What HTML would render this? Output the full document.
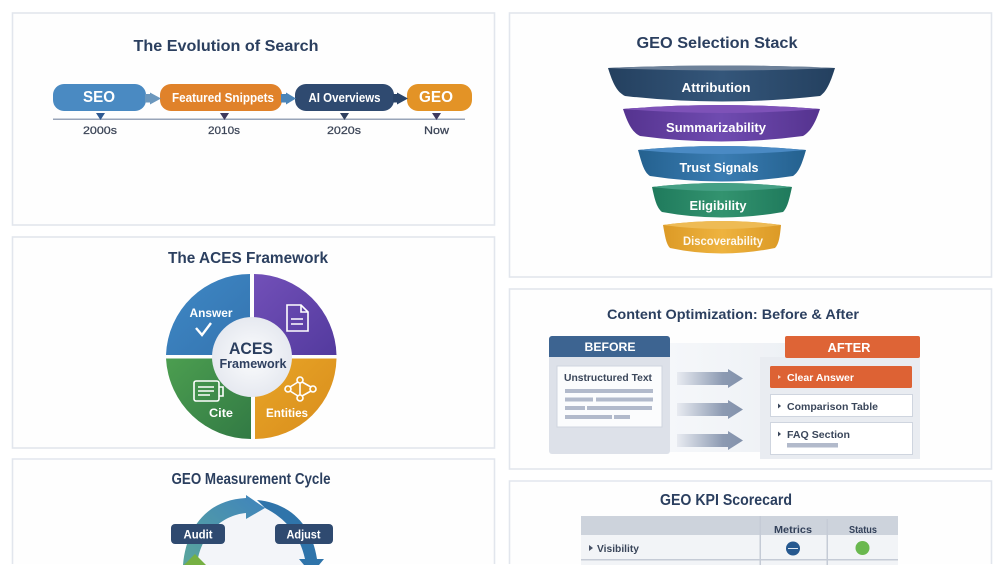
<!DOCTYPE html>
<html><head><meta charset="utf-8"><style>
html,body{margin:0;padding:0;background:#fff;width:1005px;height:565px;overflow:hidden}
svg{display:block;filter:blur(.35px)}
text{font-family:"Liberation Sans",sans-serif;font-weight:700;text-anchor:middle}
.t{fill:#2b3f5f;font-size:16px}
.w{fill:#fff}
.d{fill:#3d4658;font-size:11px;font-weight:400;stroke:#3d4658;stroke-width:.25}
.l{fill:#3a465a;font-size:10.5px;text-anchor:start}
</style></head><body>
<svg width="1005" height="565" viewBox="0 0 1005 565" xmlns="http://www.w3.org/2000/svg">
<defs>
<linearGradient id="f1" x1="0" x2="1" y1="0" y2="0"><stop offset="0" stop-color="#24405f"/><stop offset=".5" stop-color="#34567a"/><stop offset="1" stop-color="#24405f"/></linearGradient>
<linearGradient id="f2" x1="0" x2="1" y1="0" y2="0"><stop offset="0" stop-color="#55338f"/><stop offset=".5" stop-color="#6f4bb0"/><stop offset="1" stop-color="#55338f"/></linearGradient>
<linearGradient id="f3" x1="0" x2="1" y1="0" y2="0"><stop offset="0" stop-color="#24618f"/><stop offset=".5" stop-color="#3a7cb2"/><stop offset="1" stop-color="#24618f"/></linearGradient>
<linearGradient id="f4" x1="0" x2="1" y1="0" y2="0"><stop offset="0" stop-color="#1f7a5c"/><stop offset=".5" stop-color="#33936f"/><stop offset="1" stop-color="#1f7a5c"/></linearGradient>
<linearGradient id="f5" x1="0" x2="1" y1="0" y2="0"><stop offset="0" stop-color="#dc9a26"/><stop offset=".5" stop-color="#eeb33f"/><stop offset="1" stop-color="#dc9a26"/></linearGradient>
<linearGradient id="ar" x1="0" x2="1" y1="0" y2="0"><stop offset="0" stop-color="#e8ebf1"/><stop offset=".7" stop-color="#8c9ab2"/><stop offset="1" stop-color="#8392ab"/></linearGradient>
<linearGradient id="band" x1="0" x2="1" y1="0" y2="0"><stop offset="0" stop-color="#f5f7fa"/><stop offset="1" stop-color="#eef1f5"/></linearGradient>
<linearGradient id="c1" x1="0" x2="1" y1="1" y2="0"><stop offset="0" stop-color="#5aa69c"/><stop offset="1" stop-color="#3f83bd"/></linearGradient>
<linearGradient id="q1" x1="0" x2="1" y1="0" y2="1"><stop offset="0" stop-color="#3f88c5"/><stop offset="1" stop-color="#3474b0"/></linearGradient>
<linearGradient id="q2" x1="0" x2="1" y1="0" y2="1"><stop offset="0" stop-color="#7250b8"/><stop offset="1" stop-color="#533a9e"/></linearGradient>
<linearGradient id="q3" x1="0" x2="1" y1="0" y2="1"><stop offset="0" stop-color="#4c9e50"/><stop offset="1" stop-color="#327a44"/></linearGradient>
<linearGradient id="q4" x1="0" x2="1" y1="0" y2="1"><stop offset="0" stop-color="#e8a527"/><stop offset="1" stop-color="#d88c1c"/></linearGradient>
<radialGradient id="ctr"><stop offset="0" stop-color="#fbfcfd"/><stop offset="1" stop-color="#e6e9f0"/></radialGradient>
</defs>
<rect width="1005" height="565" fill="#fff"/>
<g fill="#fefefe" stroke="#e2e6ed" stroke-width="1.6">
<rect x="12.5" y="13" width="482" height="212"/>
<rect x="12.5" y="237" width="482" height="211"/>
<path d="M12.500 564V459H494.500V564"/>
<rect x="509.5" y="13" width="482" height="264"/>
<rect x="509.5" y="289" width="482" height="180"/>
<path d="M509.500 564V481H991.500V564"/>
</g>

<!-- Evolution -->
<text class="t" x="226" y="51" textLength="185" lengthAdjust="spacingAndGlyphs">The Evolution of Search</text>
<rect x="53" y="84" width="93" height="27" rx="11" fill="#4a8ac2"/>
<rect x="160" y="84" width="122" height="27" rx="11" fill="#e0822a"/>
<rect x="295" y="84" width="99" height="27" rx="11" fill="#2f4a70"/>
<rect x="407" y="84" width="65" height="27" rx="11" fill="#e39326"/>
<path d="M145 94H150V92.500L161 98.500 150 104.500V102.500H145Z" fill="#6b97bd"/>
<path d="M281 94H286V92.500L296 98.500 286 104.500V102.500H281Z" fill="#4a84b8"/>
<path d="M393 94H397V92.500L408 98.500 397 104.500V102.500H393Z" fill="#2a4468"/>
<text class="w" x="99" y="102" font-size="16" textLength="32" lengthAdjust="spacingAndGlyphs">SEO</text>
<text class="w" x="223" y="102" font-size="12.500" textLength="102" lengthAdjust="spacingAndGlyphs">Featured Snippets</text>
<text class="w" x="344.500" y="102" font-size="12.500" textLength="72" lengthAdjust="spacingAndGlyphs">AI Overviews</text>
<text class="w" x="436" y="102" font-size="16" textLength="34" lengthAdjust="spacingAndGlyphs">GEO</text>
<rect x="53" y="118.500" width="412" height="1.500" fill="#98a4b8"/>
<path d="M96 113H105L100.500 120Z" fill="#2f5a92"/>
<path d="M220 113H229L224.500 120Z" fill="#3f3a5e"/>
<path d="M340 113H349L344.500 120Z" fill="#2f4060"/>
<path d="M432 113H441L436.500 120Z" fill="#3f3a5e"/>
<text class="d" x="100" y="134" textLength="34" lengthAdjust="spacingAndGlyphs">2000s</text>
<text class="d" x="224" y="134" textLength="32" lengthAdjust="spacingAndGlyphs">2010s</text>
<text class="d" x="344" y="134" textLength="34" lengthAdjust="spacingAndGlyphs">2020s</text>
<text class="d" x="436.500" y="134" textLength="25" lengthAdjust="spacingAndGlyphs">Now</text>

<!-- ACES -->
<text class="t" x="248" y="263" font-size="15" textLength="160" lengthAdjust="spacingAndGlyphs">The ACES Framework</text>
<path d="M250 355V274A84 84 0 0 0 166 355Z" fill="url(#q1)"/>
<path d="M254 355V274A83 83 0 0 1 336.500 355Z" fill="url(#q2)"/>
<path d="M251 358.500V439A85 85 0 0 1 166 358.500Z" fill="url(#q3)"/>
<path d="M255 358.500V439A82 82 0 0 0 336.500 358.500Z" fill="url(#q4)"/>
<circle cx="252" cy="357" r="40" fill="url(#ctr)"/>
<text x="251" y="354" font-size="17" fill="#2b3f5f" textLength="44" lengthAdjust="spacingAndGlyphs">ACES</text>
<text x="253" y="368" font-size="12.500" fill="#2f4060" textLength="67" lengthAdjust="spacingAndGlyphs">Framework</text>
<text class="w" x="211" y="317" font-size="11.500" textLength="43" lengthAdjust="spacingAndGlyphs">Answer</text>
<path d="M196 328l6 7 9-12" fill="none" stroke="#fff" stroke-width="2.400"/>
<text class="w" x="221" y="417" font-size="12" textLength="24" lengthAdjust="spacingAndGlyphs">Cite</text>
<text class="w" x="287" y="417" font-size="12" textLength="42" lengthAdjust="spacingAndGlyphs">Entities</text>
<g fill="none" stroke="#fff" stroke-width="1.600">
<path d="M287 305H301L308 312V331H287Z"/><path d="M301 305V312H308"/><path d="M291 319H303M291 324H303"/>
<rect x="194" y="381" width="25" height="20" rx="2"/><path d="M198 387H214M198 391H214M198 395H210"/><path d="M219 387H223V396H219"/>
<circle cx="300" cy="380" r="3"/><circle cx="288" cy="389" r="3"/><circle cx="313" cy="389" r="3"/><circle cx="300" cy="398" r="3"/>
<path d="M298 382L290 387M302 382L311 387M290 391L298 396M311 391L302 396M300 383V395"/>
</g>

<!-- Cycle -->
<text class="t" x="251" y="484" font-size="13.500" textLength="159" lengthAdjust="spacingAndGlyphs">GEO Measurement Cycle</text>
<path d="M193 565A58 58 0 0 1 309 565Z" fill="#f3f5f9"/>
<path d="M183 565C186 530 205 500 246 498V495L265 508 246 519V513C222 515 200 535 197 565Z" fill="url(#c1)"/>
<path d="M257 500C290 503 312 525 317 559H324L319 565H304L299 559H305C300 535 285 518 265 508Z" fill="#2f74aa"/>
<rect x="171" y="524" width="54" height="20" rx="4" fill="#2f4a70"/>
<rect x="275" y="524" width="58" height="20" rx="4" fill="#2f4a70"/>
<text class="w" x="198" y="538.500" font-size="12" textLength="29" lengthAdjust="spacingAndGlyphs">Audit</text>
<text class="w" x="303.500" y="538.500" font-size="12" textLength="34" lengthAdjust="spacingAndGlyphs">Adjust</text>
<path d="M195 554L206 565H184Z" fill="#76b043"/>

<!-- Funnel -->
<text class="t" x="717" y="48" font-size="16.500" textLength="161" lengthAdjust="spacingAndGlyphs">GEO Selection Stack</text>
<path d="M608 68Q721 63 835 68C830 84 826 92 820 96Q721 107 625 96C617 92 613 84 608 68Z" fill="url(#f1)"/>
<path d="M608 68Q721 63 835 68Q721 73 608 68Z" fill="#6d8199"/>
<path d="M623 109Q721 101 820 109C815 124 810 132 803 136Q721 147 640 136C632 132 628 124 623 109Z" fill="url(#f2)"/>
<path d="M623 109Q721 101 820 109Q721 117 623 109Z" fill="#7e52b8"/>
<path d="M638 150Q721 142 806 150C802 164 799 172 793 176Q721 187 650 176C644 172 642 164 638 150Z" fill="url(#f3)"/>
<path d="M638 150Q721 142 806 150Q721 158 638 150Z" fill="#4a8ac4"/>
<path d="M652 187Q721 179 792 187C789 201 787 208 783 212Q721 223 662 212C657 208 655 201 652 187Z" fill="url(#f4)"/>
<path d="M652 187Q721 179 792 187Q721 195 652 187Z" fill="#45a085"/>
<path d="M663 225Q721 217 781 225C780 236 779 244 775 248Q721 259 670 248C666 244 665 236 663 225Z" fill="url(#f5)"/>
<path d="M663 225Q721 217 781 225Q721 233 663 225Z" fill="#eebb55"/>
<text class="w" x="716" y="92" font-size="12.500" textLength="69" lengthAdjust="spacingAndGlyphs">Attribution</text>
<text class="w" x="716" y="132" font-size="12.500" textLength="100" lengthAdjust="spacingAndGlyphs">Summarizability</text>
<text class="w" x="719" y="172" font-size="12.500" textLength="79" lengthAdjust="spacingAndGlyphs">Trust Signals</text>
<text class="w" x="718" y="210" font-size="12.500" textLength="57" lengthAdjust="spacingAndGlyphs">Eligibility</text>
<text class="w" x="723" y="245" font-size="12" textLength="80" lengthAdjust="spacingAndGlyphs" fill-opacity=".92">Discoverability</text>

<!-- Before/After -->
<text x="733" y="319" font-size="13.500" fill="#2b3f5f" textLength="252" lengthAdjust="spacingAndGlyphs">Content Optimization: Before &amp; After</text>
<rect x="670" y="343" width="116" height="109" fill="url(#band)"/>
<rect x="549" y="336" width="121" height="118" rx="3" fill="#dde1e9"/>
<path d="M549 357V339a3 3 0 0 1 3-3H667a3 3 0 0 1 3 3V357Z" fill="#3d6491"/>
<text class="w" x="610" y="351" font-size="12" textLength="51" lengthAdjust="spacingAndGlyphs">BEFORE</text>
<rect x="760" y="357" width="160" height="102" fill="#e9ecf1"/>
<rect x="785" y="336" width="135" height="22" rx="2" fill="#de6436"/>
<text class="w" x="849" y="352" font-size="12.500" textLength="43" lengthAdjust="spacingAndGlyphs">AFTER</text>
<rect x="557" y="366" width="105" height="61" fill="#fbfcfd" stroke="#cfd5df"/>
<text class="l" x="564" y="381" font-size="10.500" textLength="88" lengthAdjust="spacingAndGlyphs">Unstructured Text</text>
<g fill="#b2bacb">
<rect x="565" y="389" width="88" height="4"/>
<rect x="565" y="397.500" width="28" height="4"/><rect x="596" y="397.500" width="57" height="4"/>
<rect x="565" y="406" width="20" height="4"/><rect x="587" y="406" width="65" height="4"/>
<rect x="565" y="415" width="47" height="4"/><rect x="614" y="415" width="16" height="4"/>
</g>
<g fill="url(#ar)">
<path d="M677 372H728V369L743 378.500 728 388V385H677Z"/>
<path d="M677 403H728V400L743 409.500 728 419V416H677Z"/>
<path d="M677 434H728V431L743 440.500 728 450V447H677Z"/>
</g>
<rect x="770" y="366" width="142" height="22" rx="1.500" fill="#dd6234"/>
<rect x="770.500" y="394.500" width="142" height="22" fill="#fff" stroke="#cfd5df"/>
<rect x="770.500" y="422.500" width="142" height="32" fill="#fff" stroke="#cfd5df"/>
<path d="M778 375l3 2-3 2Z" fill="#f7d2bf"/><path d="M778 403.500l3 2.500-3 2.500Z" fill="#3a465a"/><path d="M778 431.500l3 2.500-3 2.500Z" fill="#3a465a"/>
<text x="787" y="381" font-size="10.500" fill="#fff" style="text-anchor:start" textLength="67" lengthAdjust="spacingAndGlyphs">Clear Answer</text>
<text class="l" x="787" y="410" textLength="91" lengthAdjust="spacingAndGlyphs">Comparison Table</text>
<text class="l" x="787" y="438" textLength="63" lengthAdjust="spacingAndGlyphs">FAQ Section</text>
<rect x="787" y="443" width="51" height="4.500" fill="#b2bacb"/>

<!-- KPI -->
<text class="t" x="726" y="505" font-size="14.500" textLength="132" lengthAdjust="spacingAndGlyphs">GEO KPI Scorecard</text>
<rect x="581" y="516" width="317" height="19" fill="#cdd3dc"/>
<rect x="581" y="535" width="317" height="30" fill="#f2f4f7"/>
<rect x="581" y="559" width="317" height="1.500" fill="#c5cbd6"/>
<rect x="759.500" y="516" width="1.500" height="49" fill="#c5cbd6"/>
<rect x="826.500" y="519" width="1.500" height="46" fill="#c5cbd6"/>
<text x="793" y="533" font-size="10.500" fill="#33415a" textLength="38" lengthAdjust="spacingAndGlyphs">Metrics</text>
<text x="863" y="533" font-size="10.500" fill="#33415a" textLength="28" lengthAdjust="spacingAndGlyphs">Status</text>
<path d="M589 545l4 3-4 3Z" fill="#4a5468"/>
<text class="l" x="597" y="552" textLength="42" lengthAdjust="spacingAndGlyphs">Visibility</text>
<circle cx="793" cy="548.500" r="7" fill="#26588f"/>
<path d="M788 548.500H798" stroke="#dfe8f2" stroke-width="1"/>
<circle cx="862.500" cy="548" r="7" fill="#6ab84f"/>
</svg>
</body></html>
